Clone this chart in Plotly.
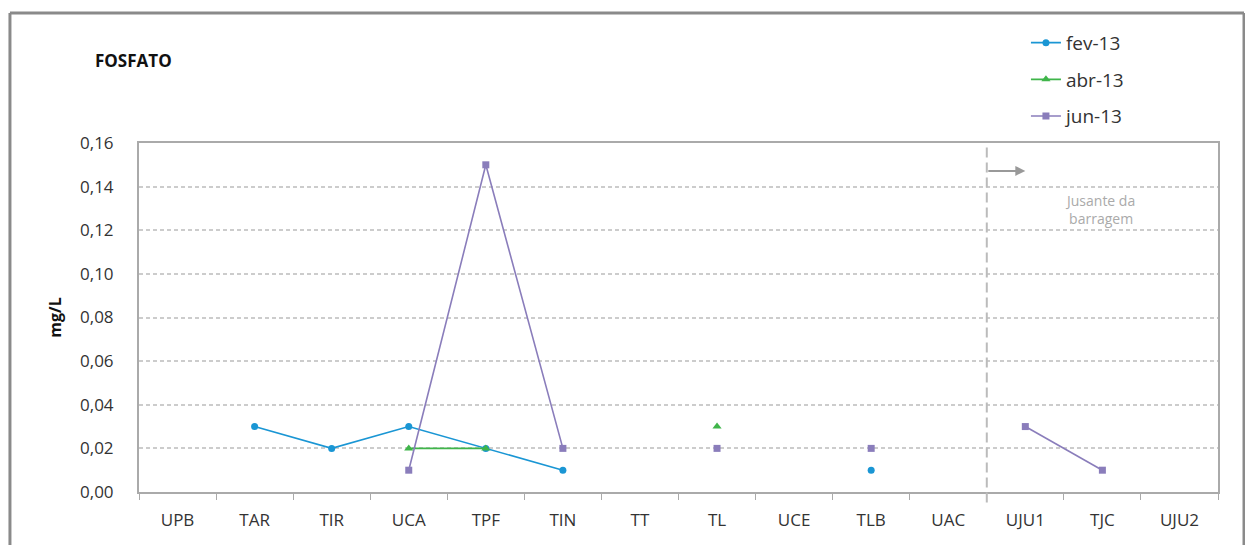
import plotly.graph_objects as go

categories = ["UPB", "TAR", "TIR", "UCA", "TPF", "TIN", "TT", "TL", "UCE", "TLB", "UAC", "UJU1", "TJC", "UJU2"]
fev_13 = [None, 0.03, 0.02, 0.03, 0.02, 0.01, None, None, None, 0.01, None, None, None, None]
abr_13 = [None, None, None, 0.02, 0.02, None, None, 0.03, None, None, None, None, None, None]
jun_13 = [None, None, None, 0.01, 0.15, 0.02, None, 0.02, None, 0.02, None, 0.03, 0.01, None]
y_ticks = [0, 0.02, 0.04, 0.06, 0.08, 0.10, 0.12, 0.14, 0.16]

series = [
    ("fev-13", fev_13, "#1a96d4", "circle", 7),
    ("abr-13", abr_13, "#3fb54a", "triangle-up", 8),
    ("jun-13", jun_13, "#8a7dbb", "square", 7),
]

fig = go.Figure()
for name, vals, color, sym, msize in series:
    fig.add_trace(go.Scatter(
        x=categories, y=vals, name=name, mode="lines+markers",
        line=dict(color=color, width=1.6),
        marker=dict(color=color, symbol=sym, size=msize),
        connectgaps=False, legendgroup=name,
    ))

frame = dict(color="#8a8a8a", width=3)
fig.update_layout(
    width=1237, height=537,
    margin=dict(l=131, r=27, t=135, b=53),
    paper_bgcolor="white", plot_bgcolor="white",
    separators=",.",
    font=dict(family="Open Sans, Liberation Sans, sans-serif", color="#333", size=17),
    showlegend=True,
    legend=dict(x=0.822, y=1.3415, xanchor="left", yanchor="top",
                font=dict(size=19, color="#333"), tracegroupgap=9,
                traceorder="grouped", bgcolor="rgba(0,0,0,0)"),
    xaxis=dict(type="category", categoryorder="array", categoryarray=categories,
               range=[-0.5, 13.5], showgrid=False, showline=True, linecolor="#aaa",
               linewidth=2, mirror=True, ticks="outside", tickson="boundaries",
               ticklen=6, tickcolor="#aaa", ticklabelstandoff=12,
               tickfont=dict(size=17, color="#333")),
    yaxis=dict(range=[0, 0.16], tickvals=y_ticks, tickformat=".2f",
               showgrid=True, gridcolor="#cccccc", griddash="4px,3px", gridwidth=1.5,
               showline=True, linecolor="#aaa", linewidth=2, mirror=True,
               zeroline=False, ticks="", ticklabelstandoff=20,
               tickfont=dict(size=17, color="#333"),
               title=dict(text="<b>mg/L</b>", font=dict(size=16, color="#111"), standoff=14)),
    annotations=[
        dict(text="<b>FOSFATO</b>", xref="paper", yref="paper", x=-0.043, y=1.235,
             xanchor="left", yanchor="middle", showarrow=False,
             font=dict(size=17, color="#111")),
        dict(text="Jusante da<br>barragem", xref="x", yref="y", x=11.97, y=0.1293,
             showarrow=False, font=dict(size=14, color="#aaa")),
        dict(text="", xref="x", yref="y", x=11.0, y=0.1472, axref="x", ayref="y",
             ax=10.5, ay=0.1472, showarrow=True, arrowhead=2, arrowsize=1,
             arrowwidth=2, arrowcolor="#999"),
    ],
    shapes=[
        dict(type="line", xref="x", yref="paper", x0=10.5, x1=10.5, y0=-0.03, y1=1,
             line=dict(color="#bbb", width=2, dash="10px,5px")),
        dict(type="line", xref="paper", yref="paper", x0=-0.1196, x1=-0.1196,
             y0=-0.2, y1=1.3725, line=frame, layer="below"),
        dict(type="line", xref="paper", yref="paper", x0=-0.1196, x1=1.0241,
             y0=1.3725, y1=1.3725, line=frame, layer="below"),
        dict(type="line", xref="paper", yref="paper", x0=1.0241, x1=1.0241,
             y0=-0.2, y1=1.3725, line=frame, layer="below"),
    ],
)

fig.write_html("out.html")
